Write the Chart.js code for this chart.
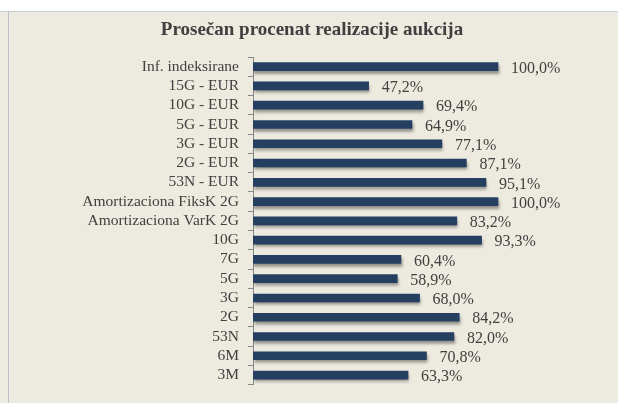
<!DOCTYPE html>
<html>
<head>
<meta charset="utf-8">
<script src="https://cdn.jsdelivr.net/npm/chart.js@4"></script>
<style>
  html, body { margin: 0; padding: 0; width: 618px; height: 403px; overflow: hidden; background: #EDEAE0; }
  #top { position: absolute; left: 0; top: 0; width: 618px; height: 11px; background: #ffffff; border-bottom: 1px solid #C9CDD8; }
  #vline { position: absolute; left: 8px; top: 11px; width: 1px; height: 392px; background: #BCC0CC; }
  #wrap { position: absolute; left: 0; top: 0; width: 618px; height: 403px; }
</style>
</head>
<body>
<div id="top"></div>
<div id="vline"></div>
<div id="wrap"><canvas id="c" width="618" height="403"></canvas></div>
<script>
const titleText = "Prosečan procenat realizacije aukcija";
const categories = [
  "Inf. indeksirane", "15G - EUR", "10G - EUR", "5G - EUR", "3G - EUR", "2G - EUR",
  "53N - EUR", "Amortizaciona FiksK 2G", "Amortizaciona VarK 2G", "10G", "7G", "5G",
  "3G", "2G", "53N", "6M", "3M"
];
const values = [100.0, 47.2, 69.4, 64.9, 77.1, 87.1, 95.1, 100.0, 83.2, 93.3, 60.4, 58.9, 68.0, 84.2, 82.0, 70.8, 63.3];

const fmt = v => v.toFixed(1).replace('.', ',') + '%';
const textColor = '#404040';
const serif = "'Liberation Serif', 'Times New Roman', serif";

const shadowPlugin = {
  id: 'barShadow',
  beforeDatasetDraw(chart) {
    const ctx = chart.ctx;
    ctx.save();
    ctx.shadowColor = 'rgba(0,0,0,0.38)';
    ctx.shadowBlur = 3;
    ctx.shadowOffsetX = 1;
    ctx.shadowOffsetY = 3;
  },
  afterDatasetDraw(chart) {
    chart.ctx.restore();
  }
};

const labelPlugin = {
  id: 'valueLabels',
  afterDatasetsDraw(chart) {
    const ctx = chart.ctx;
    const meta = chart.getDatasetMeta(0);
    ctx.save();
    ctx.font = "16px " + serif;
    ctx.fillStyle = textColor;
    ctx.textAlign = 'left';
    ctx.textBaseline = 'middle';
    meta.data.forEach((bar, i) => {
      ctx.fillText(fmt(values[i]), bar.x + 13, bar.y + 2);
    });
    ctx.restore();
  }
};

const titlePlugin = {
  id: 'customTitle',
  afterDraw(chart) {
    const ctx = chart.ctx;
    ctx.save();
    ctx.font = "bold 19px " + serif;
    ctx.fillStyle = textColor;
    ctx.textAlign = 'center';
    ctx.textBaseline = 'alphabetic';
    ctx.fillText(titleText, 312, 35);
    ctx.restore();
  }
};

new Chart(document.getElementById('c'), {
  type: 'bar',
  data: {
    labels: categories,
    datasets: [{
      data: values,
      backgroundColor: '#243F60',
      borderWidth: 0,
      barThickness: 8
    }]
  },
  options: {
    indexAxis: 'y',
    responsive: false,
    animation: false,
    layout: { padding: { left: 0, right: 71, top: 57, bottom: 15 } },
    plugins: {
      legend: { display: false },
      tooltip: { enabled: false },
      title: { display: false }
    },
    scales: {
      x: { display: false, min: 0, max: 120 },
      y: {
        afterFit(s) { s.width = 253; },
        grid: { drawOnChartArea: false, tickLength: 5, color: '#888888', offset: true },
        border: { display: true, color: '#888888', width: 1 },
        ticks: { color: textColor, font: { family: serif, size: 15.5 }, padding: 9, autoSkip: false }
      }
    }
  },
  plugins: [shadowPlugin, labelPlugin, titlePlugin]
});
</script>
</body>
</html>
